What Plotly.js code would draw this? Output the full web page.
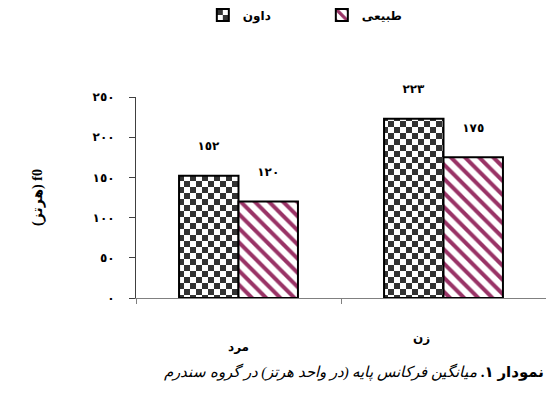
<!DOCTYPE html>
<html><head><meta charset="utf-8">
<script src="https://cdn.plot.ly/plotly-3.0.1.min.js"></script>
<style>html,body{margin:0;padding:0;background:#fff}#chart{width:546px;height:400px}</style>
</head><body><div id="chart"></div>
<script>
const categories = ['مرد', 'زن'];
const seriesNames = ['داون', 'طبیعی'];
const downValues = [152, 223];
const normalValues = [120, 175];
const yTickVals = [0, 50, 100, 150, 200, 250];
const yTitle = '(هرتز) f0';
const captionBold = 'نمودار ۱.';
const captionItalic = 'میانگین فرکانس پایه (در واحد هرتز) در گروه سندرم';

function toArabicDigits(n) {
  return String(n).replace(/[0-9]/g, d => String.fromCharCode(0x0660 + Number(d)));
}

const FONT = 'Liberation Serif, DejaVu Sans, serif';
const labelFont = {family: FONT, size: 12, color: '#000', weight: 'bold'};
const LABEL_TEMPLATE = '%{text}<br><span style="font-size:34px"> </span>';

// style offsets for the category captions under the axis
const catLabelShiftX = [0, -22];
const catLabelShiftY = [-49, -40];

const traces = [
  {
    type: 'bar', name: seriesNames[0], x: categories, y: downValues,
    text: downValues.map(toArabicDigits), texttemplate: LABEL_TEMPLATE,
    textposition: 'outside', textfont: labelFont, cliponaxis: false,
    marker: {color: '#333333', line: {color: '#000', width: 2}},
    hoverinfo: 'skip'
  },
  {
    type: 'bar', name: seriesNames[1], x: categories, y: normalValues,
    text: normalValues.map(toArabicDigits), texttemplate: LABEL_TEMPLATE,
    textposition: 'outside', textfont: labelFont, cliponaxis: false,
    marker: {color: '#ffffff', line: {color: '#000', width: 2},
      pattern: {shape: '\\', fgcolor: '#993366', bgcolor: '#ffffff', size: 10, solidity: 0.4, fillmode: 'replace'}},
    hoverinfo: 'skip'
  }
];

const annotations = categories.map((c, i) => ({
  xref: 'x', yref: 'y', x: c, y: 0, xanchor: 'center', yanchor: 'middle',
  xshift: catLabelShiftX[i], yshift: catLabelShiftY[i],
  text: c, showarrow: false, font: {family: FONT, size: 12, color: '#000', weight: 'bold'}
}));
annotations.push({
  xref: 'paper', yref: 'paper', x: 1, y: -0.368, xanchor: 'right', yanchor: 'middle',
  text: '<b>' + captionBold + '</b> <i>' + captionItalic + '</i>',
  showarrow: false, font: {family: FONT, size: 15, color: '#000'}
});

const layout = {
  width: 546, height: 400,
  margin: {l: 136, r: 0, t: 97, b: 102},
  paper_bgcolor: '#fff', plot_bgcolor: '#fff',
  barmode: 'group', bargap: 0.42, bargroupgap: 0,
  showlegend: true,
  legend: {orientation: 'h', x: 0.163, xanchor: 'left', yref: 'container', y: 0.9625, yanchor: 'middle',
    font: {family: FONT, size: 12, color: '#000', weight: 'bold'}, entrywidth: 74, traceorder: 'normal'},
  xaxis: {
    type: 'category', range: [-0.5, 1.5], showline: true, linecolor: '#808080', linewidth: 1,
    ticks: 'outside', tickson: 'boundaries', ticklen: 5, tickcolor: '#808080', showgrid: false,
    showticklabels: false, fixedrange: true
  },
  yaxis: {
    range: [0, 250], tickvals: yTickVals, ticktext: yTickVals.map(toArabicDigits),
    showline: true, linecolor: '#404040', linewidth: 1, ticks: 'outside', ticklen: 6, tickcolor: '#404040',
    showgrid: false, zeroline: false, ticklabelstandoff: 12,
    tickfont: {family: FONT, size: 12, color: '#000', weight: 'bold'},
    title: {text: yTitle, font: {family: FONT, size: 14, color: '#000', weight: 'bold'}, standoff: 46},
    fixedrange: true
  },
  annotations: annotations
};

Plotly.newPlot('chart', traces, layout, {staticPlot: true, displayModeBar: false}).then(gd => {
  const NS = 'http://www.w3.org/2000/svg';
  const defs = gd.querySelector('svg.main-svg defs');
  const pat = document.createElementNS(NS, 'pattern');
  pat.setAttribute('id', 'checkerPat');
  pat.setAttribute('patternUnits', 'userSpaceOnUse');
  pat.setAttribute('width', '12');
  pat.setAttribute('height', '12');
  [[0, 0, 12, 12, '#ffffff'], [0, 0, 6, 6, '#333333'], [6, 6, 6, 6, '#333333']].forEach(r => {
    const el = document.createElementNS(NS, 'rect');
    el.setAttribute('x', r[0]); el.setAttribute('y', r[1]);
    el.setAttribute('width', r[2]); el.setAttribute('height', r[3]);
    el.setAttribute('fill', r[4]);
    pat.appendChild(el);
  });
  defs.appendChild(pat);
  const barTraces = gd.querySelectorAll('.barlayer .trace');
  if (barTraces[0]) barTraces[0].querySelectorAll('.point path').forEach(p => { p.style.fill = 'url(#checkerPat)'; });
  const legTraces = gd.querySelectorAll('.legend .traces');
  if (legTraces[0]) legTraces[0].querySelectorAll('.legendpoints path').forEach(p => { p.style.fill = 'url(#checkerPat)'; });
});
</script>
</body></html>
